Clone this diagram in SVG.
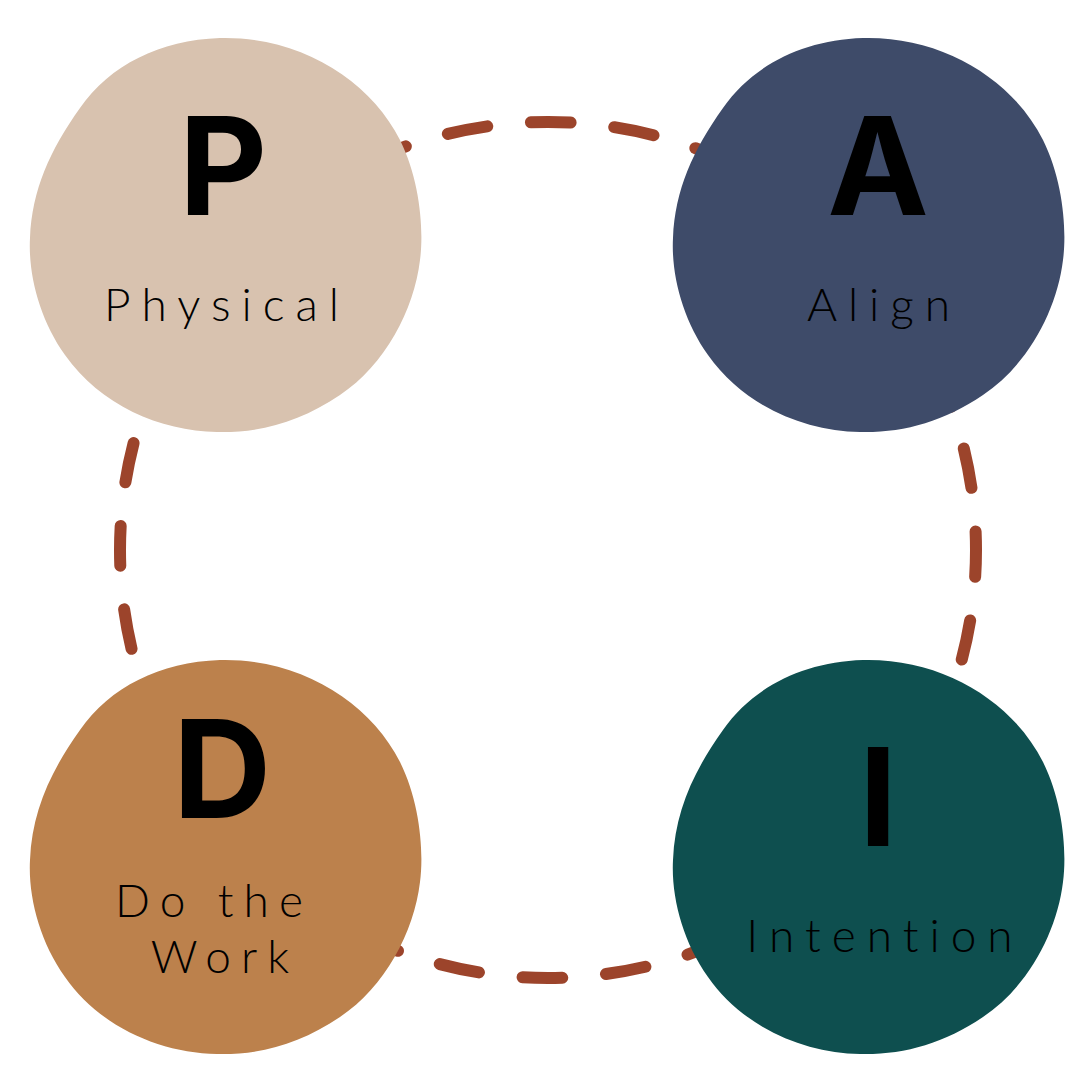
<svg xmlns="http://www.w3.org/2000/svg" width="1080" height="1080" viewBox="0 0 1080 1080">
<style>
.big{font-family:Inter,"Liberation Sans",sans-serif;font-weight:700;font-size:136px;fill:#000;text-anchor:middle}
.sub{font-family:Lato,"Liberation Sans",sans-serif;font-weight:300;font-size:46px;fill:#000;text-anchor:middle;letter-spacing:11px}
.loop{fill:none;stroke:#9C442B;stroke-width:12;stroke-linecap:round;stroke-dasharray:40 43.84;stroke-dashoffset:13}
</style>
<defs>
<path id="blob" d="M220,38 C300,36 370,80 400,140 C420,180 424,230 420,260 C414,310 385,365 340,395 C300,422 260,433 217,432 C160,431 100,405 65,355 C40,320 28,275 30,238 C32,190 50,150 80,108 C110,65 160,40 220,38 Z"/>
</defs>
<rect width="1080" height="1080" fill="#fff"/>
<g id="connectors">
<circle class="loop" cx="548" cy="550" r="428"/>
</g>
<g id="node-p">
<use href="#blob" fill="#D8C2AF"/>
<text class="big" x="223" y="215">P</text>
<text class="sub" x="227" y="321">Physical</text>
</g>
<g id="node-a">
<use href="#blob" transform="translate(643,0)" fill="#3E4B69"/>
<text class="big" x="878" y="215">A</text>
<text class="sub" x="884" y="321">Align</text>
</g>
<g id="node-d">
<use href="#blob" transform="translate(0,622)" fill="#BC814C"/>
<text class="big" x="222" y="818">D</text>
<text class="sub" x="214" y="917" style="letter-spacing:10px">Do the</text>
<text class="sub" x="225" y="973" style="letter-spacing:10px">Work</text>
</g>
<g id="node-i">
<use href="#blob" transform="translate(643,622)" fill="#0E4F4F"/>
<text class="big" x="878" y="846">I</text>
<text class="sub" x="885" y="952">Intention</text>
</g>
</svg>
